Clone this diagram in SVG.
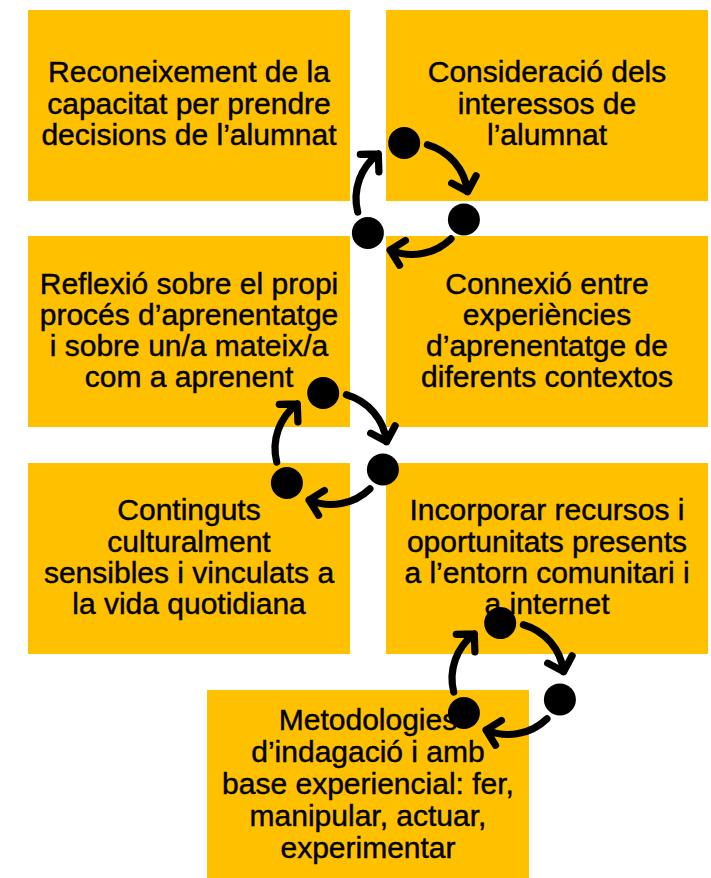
<svg xmlns="http://www.w3.org/2000/svg" xmlns:xlink="http://www.w3.org/1999/xlink" width="711" height="878" viewBox="0 0 711 878">
<style>
.box{fill:#FFC000;}
.t{font-family:"Liberation Sans",Arial,sans-serif;font-size:30px;fill:#000;stroke:#000;stroke-width:0.45;text-anchor:middle;}
.arc{fill:none;stroke:#000;stroke-width:7.2;stroke-linecap:round;stroke-linejoin:round;}
.dot{fill:#000;}
</style>
<defs>
<g id="cycle">
<circle class="dot" cx="-7.8" cy="-55.5" r="16"/>
<circle class="dot" cx="51.9" cy="21" r="16"/>
<circle class="dot" cx="-44.1" cy="34.5" r="16"/>
<path class="arc" d="M15.4,-53.8 A56,56 0 0,1 55.6,-6.8 M39.7,-15.3 L55.6,-6.8 L64.1,-22.7"/>
<path class="arc" d="M38.9,40.3 A56,56 0 0,1 -21.9,51.5 M-6.6,42 L-21.9,51.5 L-12.4,66.8"/>
<path class="arc" d="M-54.3,13.5 A56,56 0 0,1 -33.7,-44.7 M-33.1,-26.7 L-33.7,-44.7 L-51.7,-44.1"/>
</g>
</defs>
<rect width="711" height="878" fill="#fff"/>
<g id="node1">
<rect class="box" x="28" y="10" width="322" height="191"/>
<text class="t" x="189" y="82">Reconeixement de la</text>
<text class="t" x="189" y="113.5">capacitat per prendre</text>
<text class="t" x="189" y="145">decisions de l’alumnat</text>
</g>
<g id="node2">
<rect class="box" x="386" y="10" width="322" height="191"/>
<text class="t" x="547" y="82">Consideració dels</text>
<text class="t" x="547" y="113.5">interessos de</text>
<text class="t" x="547" y="145">l’alumnat</text>
</g>
<g id="node3">
<rect class="box" x="28" y="236" width="322" height="191"/>
<text class="t" x="189" y="294">Reflexió sobre el propi</text>
<text class="t" x="189" y="325">procés d’aprenentatge</text>
<text class="t" x="189" y="356">i sobre un/a mateix/a</text>
<text class="t" x="189" y="387">com a aprenent</text>
</g>
<g id="node4">
<rect class="box" x="386" y="236" width="322" height="191"/>
<text class="t" x="547" y="294">Connexió entre</text>
<text class="t" x="547" y="325">experiències</text>
<text class="t" x="547" y="356">d’aprenentatge de</text>
<text class="t" x="547" y="387">diferents contextos</text>
</g>
<g id="node5">
<rect class="box" x="28" y="463" width="322" height="191"/>
<text class="t" x="189" y="520">Continguts</text>
<text class="t" x="189" y="551.5">culturalment</text>
<text class="t" x="189" y="583">sensibles i vinculats a</text>
<text class="t" x="189" y="614">la vida quotidiana</text>
</g>
<g id="node6">
<rect class="box" x="386" y="463" width="322" height="191"/>
<text class="t" x="547" y="520">Incorporar recursos i</text>
<text class="t" x="547" y="551.5">oportunitats presents</text>
<text class="t" x="547" y="583">a l’entorn comunitari i</text>
<text class="t" x="547" y="614">a internet</text>
</g>
<g id="node7">
<rect class="box" x="207" y="690" width="322" height="188"/>
<text class="t" x="368" y="730">Metodologies</text>
<text class="t" x="368" y="762">d’indagació i amb</text>
<text class="t" x="368" y="794">base experiencial: fer,</text>
<text class="t" x="368" y="826">manipular, actuar,</text>
<text class="t" x="368" y="858">experimentar</text>
</g>
<g id="connectors">
<use xlink:href="#cycle" href="#cycle" transform="translate(412,198.5)"/>
<use xlink:href="#cycle" href="#cycle" transform="translate(331,448.5)"/>
<use xlink:href="#cycle" href="#cycle" transform="translate(508,678.5)"/>
</g>
</svg>
